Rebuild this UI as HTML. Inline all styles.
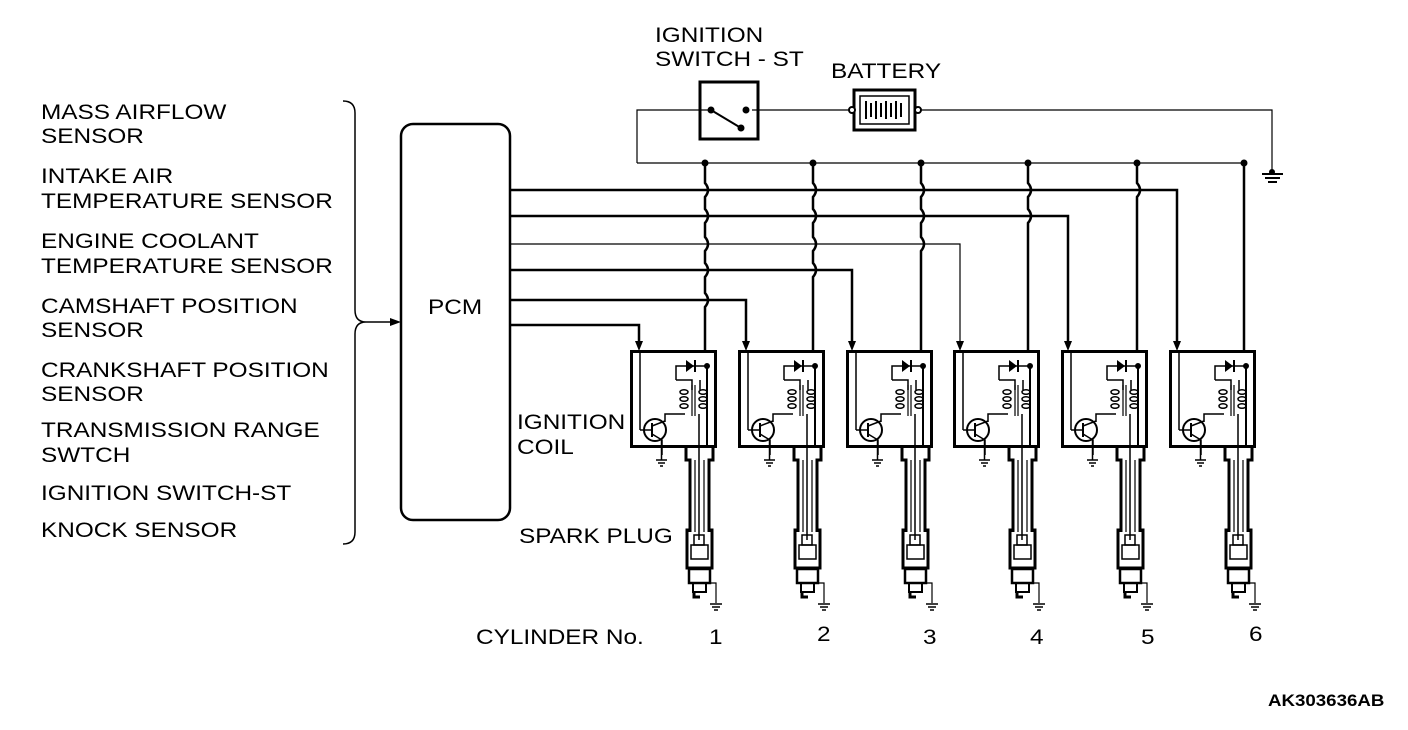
<!DOCTYPE html>
<html><head><meta charset="utf-8"><style>
html,body{margin:0;padding:0;background:#fff;}
svg{display:block;}
text{font-family:"Liberation Sans",sans-serif;fill:#000;}
</style></head><body>
<svg width="1408" height="730" viewBox="0 0 1408 730" xmlns="http://www.w3.org/2000/svg">
<defs>
<g id="coil">
  <rect x="631.5" y="351.5" width="84" height="95" fill="none" stroke="#000" stroke-width="3"/>
  <path d="M707 366 H676 V380" fill="none" stroke="#000" stroke-width="1.5"/>
  <path d="M686 360 L694 366 L686 372 Z" fill="#000"/>
  <line x1="695" y1="360" x2="695" y2="372" stroke="#000" stroke-width="2"/>
  <circle cx="707" cy="366" r="3" fill="#000"/>
  <path d="M676 380 H692 V390 M700 380 V390" fill="none" stroke="#000" stroke-width="1.5"/>
  <line x1="692" y1="385" x2="692" y2="416" stroke="#000" stroke-width="1.2"/>
  <line x1="695" y1="385" x2="695" y2="416" stroke="#000" stroke-width="1.2"/>
  <ellipse cx="684" cy="392" rx="4" ry="2.3" fill="none" stroke="#000" stroke-width="1.5"/>
  <ellipse cx="684" cy="399" rx="4" ry="2.3" fill="none" stroke="#000" stroke-width="1.5"/>
  <ellipse cx="684" cy="406" rx="4" ry="2.3" fill="none" stroke="#000" stroke-width="1.5"/>
  <ellipse cx="703" cy="392" rx="4" ry="2.3" fill="none" stroke="#000" stroke-width="1.5"/>
  <ellipse cx="703" cy="399" rx="4" ry="2.3" fill="none" stroke="#000" stroke-width="1.5"/>
  <ellipse cx="703" cy="406" rx="4" ry="2.3" fill="none" stroke="#000" stroke-width="1.5"/>
  <path d="M685 414 H665 V422" fill="none" stroke="#000" stroke-width="1.5"/>
  <path d="M699 414 V540" fill="none" stroke="#000" stroke-width="1.5"/>
  <path d="M707 366 V447" fill="none" stroke="#000" stroke-width="2"/>
  <circle cx="655" cy="430" r="11" fill="none" stroke="#000" stroke-width="2"/>
  <line x1="652" y1="423" x2="652" y2="437" stroke="#000" stroke-width="2"/>
  <path d="M640 430 H652 M652 426 L665 421 M652 434 L662 440 V455" fill="none" stroke="#000" stroke-width="1.5"/>
  <path d="M640 353 V430" fill="none" stroke="#000" stroke-width="1.5"/>
  <path d="M656 460 H667 M658 463 H665 M660 466 H663" stroke="#000" stroke-width="1.5"/>
  <line x1="661.5" y1="440" x2="661.5" y2="460" stroke="#000" stroke-width="1.5"/>
  <path d="M686 447 V460 H690 V532 M713 447 V460 H709 V532" fill="none" stroke="#000" stroke-width="3"/>
  <line x1="695" y1="460" x2="695" y2="532" stroke="#000" stroke-width="1.2"/>
  <line x1="704" y1="460" x2="704" y2="532" stroke="#000" stroke-width="1.2"/>
  <path d="M690 530 H687 V568 H712 V530 H709" fill="none" stroke="#000" stroke-width="3"/>
  <rect x="694" y="535" width="10" height="10" fill="none" stroke="#000" stroke-width="1.5"/>
  <rect x="691" y="545" width="17" height="14" fill="none" stroke="#000" stroke-width="1.5"/>
  <rect x="689" y="569" width="21" height="14" fill="none" stroke="#000" stroke-width="2.5"/>
  <path d="M693 583 V592 H706 V583" fill="none" stroke="#000" stroke-width="2"/>
  <path d="M694 592 V597 H700" fill="none" stroke="#000" stroke-width="3"/>
  <path d="M706 583 H716 V603" fill="none" stroke="#000" stroke-width="1.2"/>
  <path d="M710 604 H722 M712 607 H720 M714 610 H718" stroke="#000" stroke-width="1.5"/>
</g>
</defs>

<g font-size="21">
<text transform="matrix(1.16 0 0 1 41 119)">MASS AIRFLOW</text>
<text transform="matrix(1.16 0 0 1 41 143)">SENSOR</text>
<text transform="matrix(1.16 0 0 1 41 183)">INTAKE AIR</text>
<text transform="matrix(1.16 0 0 1 41 208)">TEMPERATURE SENSOR</text>
<text transform="matrix(1.16 0 0 1 41 248)">ENGINE COOLANT</text>
<text transform="matrix(1.16 0 0 1 41 273)">TEMPERATURE SENSOR</text>
<text transform="matrix(1.16 0 0 1 41 313)">CAMSHAFT POSITION</text>
<text transform="matrix(1.16 0 0 1 41 337)">SENSOR</text>
<text transform="matrix(1.16 0 0 1 41 377)">CRANKSHAFT POSITION</text>
<text transform="matrix(1.16 0 0 1 41 401)">SENSOR</text>
<text transform="matrix(1.16 0 0 1 41 437)">TRANSMISSION RANGE</text>
<text transform="matrix(1.16 0 0 1 41 462)">SWTCH</text>
<text transform="matrix(1.16 0 0 1 41 500)">IGNITION SWITCH-ST</text>
<text transform="matrix(1.16 0 0 1 41 537)">KNOCK SENSOR</text>
<text transform="matrix(1.16 0 0 1 655 42)">IGNITION</text>
<text transform="matrix(1.16 0 0 1 655 66)">SWITCH - ST</text>
<text transform="matrix(1.16 0 0 1 831 78)">BATTERY</text>
<text transform="matrix(1.16 0 0 1 428 314)">PCM</text>
<text transform="matrix(1.16 0 0 1 517 429)">IGNITION</text>
<text transform="matrix(1.16 0 0 1 517 454)">COIL</text>
<text transform="matrix(1.16 0 0 1 519 543)">SPARK PLUG</text>
<text transform="matrix(1.16 0 0 1 476 644)">CYLINDER No.</text>
<text transform="matrix(1.16 0 0 1 709 644)">1</text>
<text transform="matrix(1.16 0 0 1 817 641)">2</text>
<text transform="matrix(1.16 0 0 1 923 644)">3</text>
<text transform="matrix(1.16 0 0 1 1030 644)">4</text>
<text transform="matrix(1.16 0 0 1 1141 644)">5</text>
<text transform="matrix(1.16 0 0 1 1249 641)">6</text>
</g>
<text transform="matrix(1.1 0 0 1 1268 706)" font-size="17" font-weight="bold">AK303636AB</text>

<path d="M343 101 Q355 101 355 113 V310 Q355 322 366 322 Q355 322 355 334 V532 Q355 544 343 544" fill="none" stroke="#000" stroke-width="1.5"/>
<line x1="366" y1="322" x2="392" y2="322" stroke="#000" stroke-width="1.5"/>
<path d="M390 318 L401 322 L390 326 Z" fill="#000"/>
<rect x="401" y="124" width="109" height="396" rx="12" fill="none" stroke="#000" stroke-width="2.5"/>

<path d="M637 163 V110 H709 M752 110 H852 M918 110 H1272 V174" fill="none" stroke="#000" stroke-width="1.2"/>
<rect x="700" y="82" width="58" height="57" fill="none" stroke="#000" stroke-width="3"/>
<circle cx="711" cy="110" r="3.5" fill="#000"/>
<circle cx="746" cy="110" r="3.5" fill="#000"/>
<circle cx="741" cy="128" r="3.5" fill="#000"/>
<line x1="711" y1="110" x2="741" y2="128" stroke="#000" stroke-width="2"/>
<rect x="854" y="90" width="61" height="40" fill="none" stroke="#000" stroke-width="3"/>
<rect x="860" y="96" width="49" height="28" fill="none" stroke="#000" stroke-width="1.5"/>
<g stroke="#000" stroke-width="2">
<line x1="866" y1="101" x2="866" y2="119"/><line x1="871" y1="103" x2="871" y2="117"/>
<line x1="876" y1="101" x2="876" y2="119"/><line x1="881" y1="103" x2="881" y2="117"/>
<line x1="886" y1="101" x2="886" y2="119"/><line x1="891" y1="103" x2="891" y2="117"/>
<line x1="896" y1="101" x2="896" y2="119"/><line x1="901" y1="103" x2="901" y2="117"/>
</g>
<circle cx="852" cy="110" r="3" fill="#fff" stroke="#000" stroke-width="2"/>
<circle cx="918" cy="110" r="3" fill="#fff" stroke="#000" stroke-width="2"/>
<path d="M1262 174 H1283 M1265 178 H1280 M1268 182 H1277" stroke="#000" stroke-width="2"/>
<circle cx="1272" cy="172" r="3" fill="#000"/>
<line x1="637" y1="163" x2="1244" y2="163" stroke="#000" stroke-width="1.2"/>

<g fill="none" stroke="#000" stroke-width="2.5">
<path d="M510 190 H1177 V345"/>
<path d="M510 216 H1068 V345"/>
<path d="M510 244 H960 V345" stroke-width="1.2"/>
<path d="M510 270 H852 V345"/>
<path d="M510 300 H746 V345"/>
<path d="M510 325 H639 V345"/>
</g>
<g fill="#000">
<path d="M1173 341 L1181 341 L1177 351 Z"/>
<path d="M1064 341 L1072 341 L1068 351 Z"/>
<path d="M956 341 L964 341 L960 351 Z"/>
<path d="M848 341 L856 341 L852 351 Z"/>
<path d="M742 341 L750 341 L746 351 Z"/>
<path d="M635 341 L643 341 L639 351 Z"/>
</g>

<g fill="none" stroke="#000" stroke-width="2.5">
<path d="M705 163 V183 q6 7 0 14 V209 q6 7 0 14 V237 q6 7 0 14 V263 q6 7 0 14 V293 q6 7 0 14 V352"/>
<path d="M813 163 V183 q6 7 0 14 V209 q6 7 0 14 V237 q6 7 0 14 V263 q6 7 0 14 V352"/>
<path d="M921 163 V183 q6 7 0 14 V209 q6 7 0 14 V237 q6 7 0 14 V352"/>
<path d="M1028 163 V183 q6 7 0 14 V209 q6 7 0 14 V352"/>
<path d="M1137 163 V183 q6 7 0 14 V352"/>
<path d="M1244 163 V352"/>
</g>
<g fill="#000">
<circle cx="705" cy="163" r="3.5"/><circle cx="813" cy="163" r="3.5"/><circle cx="921" cy="163" r="3.5"/>
<circle cx="1028" cy="163" r="3.5"/><circle cx="1137" cy="163" r="3.5"/><circle cx="1244" cy="163" r="3.5"/>
</g>

<use href="#coil"/>
<use href="#coil" transform="translate(108,0)"/>
<use href="#coil" transform="translate(216,0)"/>
<use href="#coil" transform="translate(323,0)"/>
<use href="#coil" transform="translate(431,0)"/>
<use href="#coil" transform="translate(539,0)"/>
</svg>
</body></html>
